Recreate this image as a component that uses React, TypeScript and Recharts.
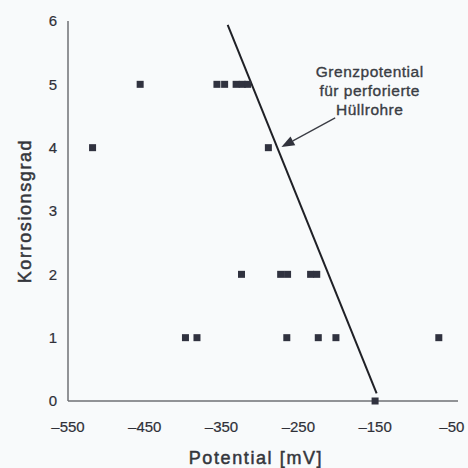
import React from "react";
import {
  ScatterChart,
  Scatter,
  XAxis,
  YAxis,
  ReferenceLine,
  ReferenceDot,
} from "recharts";

// Korrosionsgrad je Potential (mV)
const grad5 = [-456, -356, -346, -331, -323, -316];
const grad4 = [-518, -289];
const grad2 = [-324, -273, -264, -234, -226];
const grad1 = [-397, -382, -265, -224, -201, -67];
const grad0 = [-150];

const xTicks = [-550, -450, -350, -250, -150, -50];
const yTicks = [0, 1, 2, 3, 4, 5, 6];

// Grenzlinie und Beschriftung
const grenzLinie = [
  { x: -342, y: 5.94 },
  { x: -148, y: 0.12 },
];
const pfeil = [
  { x: -202, y: 4.47 },
  { x: -272, y: 4.01 },
];
const notizPos = { x: -157, y: 5.12 };
const notizZeilen = ["Grenzpotential", "für perforierte", "Hüllrohre"];

const punkte = [
  ...grad5.map((x) => ({ x, y: 5 })),
  ...grad4.map((x) => ({ x, y: 4 })),
  ...grad2.map((x) => ({ x, y: 2 })),
  ...grad1.map((x) => ({ x, y: 1 })),
  ...grad0.map((x) => ({ x, y: 0 })),
];

const FONT = "'Liberation Sans', Arial, Helvetica, sans-serif";
const INK = "#2f3038";

const Quadrat = (props: any) => {
  const { cx, cy } = props;
  return <rect x={cx - 3.5} y={cy - 3.5} width={7} height={7} fill="#30323f" />;
};

const PfeilForm = (props: any) => {
  const { x1, y1, x2, y2 } = props;
  const dx = x2 - x1;
  const dy = y2 - y1;
  const len = Math.sqrt(dx * dx + dy * dy);
  const ux = dx / len;
  const uy = dy / len;
  const kopf = 13;
  const breite = 5;
  const bx = x2 - ux * kopf;
  const by = y2 - uy * kopf;
  return (
    <g>
      <line x1={x1} y1={y1} x2={bx} y2={by} stroke="#3a3c44" strokeWidth={1.3} />
      <polygon
        points={`${x2},${y2} ${bx - uy * breite},${by + ux * breite} ${bx + uy * breite},${by - ux * breite}`}
        fill="#30323c"
      />
    </g>
  );
};

const NotizLabel = (props: any) => {
  const { viewBox } = props;
  const cx = viewBox.x + (viewBox.width || 0) / 2;
  const cy = viewBox.y + (viewBox.height || 0) / 2;
  return (
    <text
      x={cx}
      y={cy}
      textAnchor="middle"
      fontFamily={FONT}
      fontSize={15.5}
      letterSpacing={0.5}
      fill="#3a3d44"
      stroke="#3a3d44"
      strokeWidth={0.35}
    >
      {notizZeilen.map((z, i) => (
        <tspan key={i} x={cx} dy={i === 0 ? 0 : 19}>
          {z}
        </tspan>
      ))}
    </text>
  );
};

export default function App() {
  return (
    <div
      style={{
        position: "absolute",
        left: 0,
        top: 0,
        width: 468,
        height: 468,
        background: "#f8fafb",
      }}
    >
      <ScatterChart
        width={468}
        height={468}
        margin={{ top: 21, right: 10, bottom: 37, left: 25 }}
      >
        <XAxis
          type="number"
          dataKey="x"
          domain={[-550, -42]}
          ticks={xTicks}
          allowDataOverflow
          tickFormatter={(v: number) => String(v).replace("-", "\u2013")}
          tickLine={false}
          tickSize={0}
          tickMargin={20}
          height={30}
          axisLine={{ stroke: "#6f7075", strokeWidth: 1.5 }}
          tick={{ fill: INK, fontSize: 15, fontFamily: FONT, stroke: INK, strokeWidth: 0.2 }}
          label={{
            value: "Potential [mV]",
            position: "bottom",
            offset: 20,
            dx: -7,
            style: {
              fill: "#34363c",
              stroke: "#34363c",
              strokeWidth: 0.5,
              fontSize: 18,
              fontFamily: FONT,
              letterSpacing: 1.6,
            },
          }}
        />
        <YAxis
          type="number"
          dataKey="y"
          domain={[0, 6]}
          ticks={yTicks}
          tickLine={false}
          tickSize={0}
          tickMargin={11}
          width={43}
          axisLine={{ stroke: "#6f7075", strokeWidth: 1.5 }}
          tick={{ fill: INK, fontSize: 15, fontFamily: FONT, stroke: INK, strokeWidth: 0.2 }}
          label={{
            value: "Korrosionsgrad",
            angle: -90,
            position: "insideLeft",
            offset: 0,
            style: {
              textAnchor: "middle",
              fill: "#34363c",
              stroke: "#34363c",
              strokeWidth: 0.5,
              fontSize: 18,
              fontFamily: FONT,
              letterSpacing: 1.6,
            },
          }}
        />
        <ReferenceLine
          segment={grenzLinie}
          stroke="#1f2026"
          strokeWidth={2}
          ifOverflow="visible"
        />
        <ReferenceLine
          segment={pfeil}
          ifOverflow="visible"
          shape={<PfeilForm />}
        />
        <ReferenceDot
          x={notizPos.x}
          y={notizPos.y}
          r={0}
          fill="none"
          stroke="none"
          ifOverflow="visible"
          label={<NotizLabel />}
        />
        <Scatter
          data={punkte}
          shape={<Quadrat />}
          isAnimationActive={false}
        />
      </ScatterChart>
    </div>
  );
}
